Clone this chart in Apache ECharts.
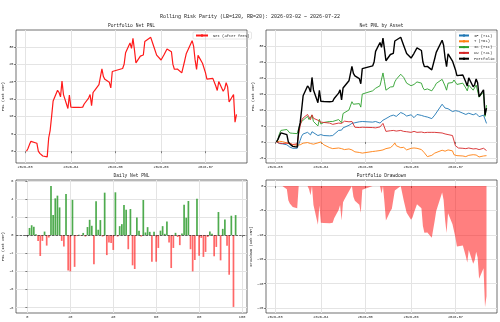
<!DOCTYPE html>
<html>
<head>
<meta charset="utf-8">
<script src="https://cdn.jsdelivr.net/npm/echarts@6/dist/echarts.min.js"></script>
<style>html,body{margin:0;padding:0;background:#fff}#chart{width:500px;height:322px}</style>
</head>
<body>
<div id="chart"></div>
<script>
// trading days, by month
var tradeDays = {
  "2026-03": [2,3,4,5,6,9,10,11,12,13,16,17,18,19,20,23,24,25,26,27,30,31],
  "2026-04": [1,2,3,7,8,9,10,13,14,15,16,17,20,21,22,23,24,27,28,29,30],
  "2026-05": [6,7,8,11,12,13,14,15,18,19,20,21,22,25,26,27,28,29],
  "2026-06": [1,2,3,4,5,8,9,10,11,12,15,16,17,18,22,23,24,25,26,29,30],
  "2026-07": [1,2,3,6,7,8,9,10,13,14,15,16,17,20,21,22]
};
var monthTicks = ["2026-03", "2026-04", "2026-05", "2026-06", "2026-07"];

// daily net pnl (10k CNY)
var dailyPnl = [0, 0.8, 1.1, 0.93, 0.1, -0.63, -2.3, -0.63, 0.4, -1.15,
  -0.26, 5.44, 2.22, 4.07, 4.37, 3.07, -0.63, -1.26, 4.55, -3.9,
  -4.0, 3.9, -3.5, -0.1, 0.05, -0.05, 0.25, -0.15, 0.9, 1.7,
  1.04, -3.2, 3.74, 0.6, 1.67, -0.15, 4.7, -2.2, -0.8, -0.85,
  -1.63, 4.74, -0.15, 1.0, 1.22, 3.33, 2.8, -1.55, 2.89, -3.33,
  -3.74, 1.96, 0.48, -0.15, 3.89, 0.3, 0.89, 0.37, -2.93, 0.37,
  -2.93, -1.41, 0.5, 1.0, 0.15, 1.52, -0.8, -3.63, -1.41, 0.26,
  -0.2, -1.1, 0.2, 3.37, 1.93, 3.78, -1.55, -4.0, -2.74, 4.04,
  -2.26, -0.3, -2.4, -1.85, -0.2, 0.4, 0.15, -2.33, -1.3, 2.56,
  -2.78, 0.7, 1.74, -1.18, -4.37, 2.15, -7.93, 2.22];

// cumulative net pnl
var netPnl = [0, 0.8, 1.9, 2.83, 2.93, 2.3, 0, -0.63, -0.23, -1.38,
  -1.64, 3.8, 6.02, 10.09, 14.46, 17.53, 16.9, 15.64, 20.19, 16.29,
  12.29, 16.19, 12.69, 12.59, 12.64, 12.59, 12.84, 12.69, 13.59, 15.29,
  16.33, 13.13, 16.87, 17.47, 19.14, 18.99, 23.69, 21.49, 20.69, 19.84,
  18.21, 22.95, 22.8, 23.8, 25.02, 28.35, 31.15, 29.6, 32.49, 29.16,
  25.42, 27.38, 27.86, 27.71, 31.6, 31.9, 32.79, 33.16, 30.23, 30.6,
  27.67, 26.26, 26.76, 27.76, 27.91, 29.43, 28.63, 25.0, 23.59, 23.85,
  23.65, 22.55, 22.75, 26.12, 28.05, 31.83, 30.28, 26.28, 23.54, 27.58,
  25.32, 25.02, 22.62, 20.77, 20.57, 20.97, 21.12, 18.79, 17.49, 20.05,
  17.27, 17.97, 19.71, 18.53, 14.16, 16.31, 8.38, 10.6];

var drawdown = [0, 0, 0, 0, 0, -0.63, -2.93, -3.56, -3.16, -4.31,
  -4.57, 0, 0, 0, 0, 0, -0.63, -1.89, 0, -3.9,
  -7.9, -4.0, -7.5, -7.6, -7.55, -7.6, -7.35, -7.5, -6.6, -4.9,
  -3.86, -7.06, -3.32, -2.72, -1.05, -1.2, 0, -2.2, -3.0, -3.85,
  -5.48, -0.74, -0.89, 0, 0, 0, 0, -1.55, 0, -3.33,
  -7.07, -5.11, -4.63, -4.78, -0.89, -0.59, 0, 0, -2.93, -2.56,
  -5.49, -6.9, -6.4, -5.4, -5.25, -3.73, -4.53, -8.16, -9.57, -9.31,
  -9.51, -10.61, -10.41, -7.04, -5.11, -1.33, -2.88, -6.88, -9.62, -5.58,
  -7.84, -8.14, -10.54, -12.39, -12.59, -12.19, -12.04, -14.37, -15.67, -13.11,
  -15.89, -15.19, -13.45, -14.63, -19.0, -16.85, -24.78, -22.56];

// per asset cumulative net pnl
var pnlIF = [0, -0.2, -0.5, -0.3, -0.6, -0.9, -1.3, -1.6, -1.4, -2.0,
  -2.0, -0.8, 0.5, 1.8, 2.5, 3.0, 2.5, 2.2, 3.2, 2.6,
  2.0, 2.6, 2.3, 2.1, 2.0, 1.9, 2.1, 2.0, 2.6, 3.6,
  4.0, 3.7, 4.4, 4.6, 5.2, 5.0, 5.8, 5.7, 6.0, 6.3,
  6.1, 6.4, 6.3, 6.2, 6.0, 6.4, 5.9, 6.1, 6.8, 6.4,
  7.3, 8.1, 7.8, 8.4, 8.6, 8.0, 9.2, 9.5, 8.8, 8.6,
  8.1, 8.5, 7.9, 7.6, 8.2, 8.6, 8.3, 7.9, 8.0, 7.6,
  7.8, 7.3, 7.1, 8.4, 9.0, 11.8, 11.3, 10.6, 10.0, 10.4,
  9.5, 9.3, 9.8, 9.4, 9.6, 9.0, 9.1, 8.6, 8.8, 9.0,
  8.5, 8.7, 8.9, 8.5, 7.9, 8.4, 8.1, 5.8];
var pnlT = [0, 0.3, 0.2, -0.2, 0.1, -0.3, -0.6, -0.4, -0.8, -0.9,
  -1.0, -0.6, -0.9, -0.5, -0.4, -0.2, -0.6, -0.5, -0.9, -0.7,
  -0.3, -0.1, 0.0, -0.5, -0.9, -1.8, -1.6, -2.1, -1.8, -1.9,
  -2.3, -2.1, -2.6, -2.4, -2.2, -2.0, -2.5, -2.8, -3.1, -3.3,
  -3.2, -3.5, -3.3, -3.0, -3.2, -2.9, -2.7, -2.9, -2.5, -2.6,
  -2.1, -1.8, -1.4, -1.0, -0.3, -1.2, -1.8, -2.0, -1.7, -2.2,
  -2.5, -2.0, -2.3, -1.9, -2.1, -2.0, -2.4, -3.0, -3.4, -4.0,
  -4.6, -4.2, -3.9, -3.5, -3.2, -2.6, -2.4, -2.9, -2.7, -2.5,
  -2.8, -4.0, -4.4, -4.3, -4.5, -4.4, -4.3, -4.6, -4.4, -4.2,
  -4.0, -4.3, -4.1, -4.5, -4.7, -4.4, -4.2, -4.3];
var pnlIC = [0, 0.9, 2.6, 3.6, 3.9, 3.9, 3.3, 2.8, 3.2, 2.7,
  2.6, 4.2, 5.6, 6.4, 7.0, 8.0, 7.0, 6.5, 8.4, 6.4,
  5.0, 7.1, 5.6, 5.9, 6.1, 6.4, 6.5, 6.4, 6.6, 7.0,
  7.6, 6.0, 8.9, 9.4, 10.0, 9.6, 12.6, 11.8, 12.0, 12.0,
  10.9, 15.0, 15.2, 16.0, 16.3, 16.8, 17.6, 17.2, 21.6, 19.0,
  16.2, 17.2, 17.6, 17.3, 18.8, 19.6, 21.2, 21.6, 20.2, 20.4,
  18.4, 17.6, 18.2, 18.0, 17.8, 18.8, 18.4, 17.0, 16.3, 16.7,
  16.6, 16.0, 16.2, 17.4, 18.3, 19.6, 19.9, 17.5, 16.2, 18.4,
  18.6, 19.4, 19.0, 18.0, 17.8, 18.4, 18.1, 16.9, 16.0, 17.8,
  16.2, 16.6, 17.8, 17.2, 14.0, 15.6, 8.0, 11.5];
var pnlCU = [0, -0.2, -0.4, -0.3, -0.5, -0.4, -0.6, -0.5, -0.7, -0.8,
  -0.6, 2.5, 5.0, 6.8, 7.5, 8.6, 7.8, 7.0, 8.5, 7.4,
  6.8, 6.5, 6.2, 6.0, 6.1, 5.9, 5.7, 5.5, 5.8, 5.9,
  6.1, 5.8, 6.4, 6.5, 6.3, 6.6, 6.4, 6.2, 4.6, 4.5,
  4.3, 4.6, 4.4, 4.5, 4.6, 4.4, 4.7, 4.5, 5.8, 5.2,
  3.3, 3.5, 3.4, 3.6, 3.5, 3.4, 3.6, 3.5, 3.3, 3.4,
  3.2, 3.0, 3.1, 3.3, 3.2, 3.0, 3.1, 3.0, 2.9, 3.1,
  3.0, 3.0, 2.8, 3.0, 3.1, 2.8, 2.9, 2.5, 2.6, 2.3,
  2.0, 1.4, -1.2, -1.8, -1.9, -2.0, -1.8, -2.1, -2.0, -1.9,
  -2.2, -2.0, -2.1, -2.3, -2.4, -2.0, -2.2, -2.7];

var assetNames = ["IF (×1L)", "T (×6L)", "IC (×1L)", "CU (×4L)", "Portfolio"];

var FONT = "Liberation Mono";
var TXT = "#222";

// build timestamps
var dates = [];
Object.keys(tradeDays).forEach(function (m) {
  var p = m.split("-");
  tradeDays[m].forEach(function (d) {
    dates.push(new Date(+p[0], +p[1] - 1, d).getTime());
  });
});
var tickTimes = monthTicks.map(function (m) {
  var p = m.split("-");
  return new Date(+p[0], +p[1] - 1, 1).getTime();
});
var span = dates[dates.length - 1] - dates[0];
var tMin = dates[0] - span * 0.05, tMax = dates[dates.length - 1] + span * 0.05;

function pairs(arr) {
  return arr.map(function (v, i) { return [dates[i], v]; });
}
function pad(n) { return n < 10 ? "0" + n : "" + n; }

var tickStyle = { color: "#333", width: 0.6 };
var gridLine = { show: true, lineStyle: { color: "#e4e4e4", width: 1 } };

function xTime(gi) {
  return {
    type: "value", gridIndex: gi, min: tMin, max: tMax,
    axisLine: { show: false },
    axisTick: { show: true, customValues: tickTimes, length: 2, lineStyle: tickStyle },
    axisLabel: {
      customValues: tickTimes, fontSize: 3.6, fontFamily: FONT, color: TXT, margin: 2.5,
      formatter: function (v) { var d = new Date(v); return d.getFullYear() + "-" + pad(d.getMonth() + 1); }
    },
    splitLine: gridLine
  };
}
function yVal(gi, min, max, ticks, name, gap) {
  return {
    type: "value", gridIndex: gi, min: min, max: max,
    name: name, nameLocation: "middle", nameGap: gap,
    nameTextStyle: { fontSize: 3.7, fontFamily: FONT, color: TXT },
    axisLine: { show: false },
    axisTick: { show: true, customValues: ticks, length: 2, lineStyle: tickStyle },
    axisLabel: { customValues: ticks, fontSize: 3.6, fontFamily: FONT, color: TXT, margin: 2.5 },
    splitLine: gridLine
  };
}
function gridBox(l, t) {
  return { left: l, top: t, width: 231, height: 133, show: true, borderColor: "#333", borderWidth: 0.7 };
}
function label(text, x, y, size) {
  return {
    type: "text", x: x, y: y,
    style: { text: text, textAlign: "center", textVerticalAlign: "middle", fontSize: size, fontFamily: FONT, fill: TXT }
  };
}

var chart = echarts.init(document.getElementById("chart"));
var option = {
  animation: false,
  backgroundColor: "#fff",
  graphic: [
    label("Rolling Risk Parity (LB=120, RB=20): 2026-03-02 ~ 2026-07-22", 250, 17, 5),
    label("Portfolio Net PNL", 131.5, 25.5, 4.6),
    label("Net PNL by Asset", 381.5, 25.5, 4.6),
    label("Daily Net PNL", 131.5, 175.5, 4.6),
    label("Portfolio Drawdown", 381.5, 175.5, 4.6)
  ],
  grid: [gridBox(16, 30), gridBox(266, 30), gridBox(16, 180), gridBox(266, 180)],
  legend: [
    {
      data: ["Net (after fees)"], left: 193, top: 32, itemWidth: 12, itemHeight: 3, padding: [1.5, 2],
      borderColor: "#ccc", borderWidth: 0.5, borderRadius: 1,
      textStyle: { fontSize: 3.8, fontFamily: FONT, color: TXT }
    },
    {
      data: assetNames, left: 456, top: 32, orient: "vertical", itemGap: 1.8, itemWidth: 10, itemHeight: 3,
      padding: [1.5, 2], borderColor: "#ccc", borderWidth: 0.5, borderRadius: 1,
      textStyle: { fontSize: 3.8, fontFamily: FONT, color: TXT }
    }
  ],
  xAxis: [
    xTime(0),
    xTime(1),
    {
      type: "value", gridIndex: 2, min: -5.3, max: 102.3,
      axisLine: { show: false },
      axisTick: { show: true, customValues: [0, 20, 40, 60, 80, 100], length: 2, lineStyle: tickStyle },
      axisLabel: { customValues: [0, 20, 40, 60, 80, 100], fontSize: 3.6, fontFamily: FONT, color: TXT, margin: 2.5 },
      splitLine: gridLine
    },
    xTime(3)
  ],
  yAxis: [
    yVal(0, -3.4, 34.9, [0, 5, 10, 15, 20, 25, 30], "PNL (10k CNY)", 11),
    yVal(1, -6.6, 35.05, [-5, 0, 5, 10, 15, 20, 25, 30], "PNL (10k CNY)", 11),
    yVal(2, -8.6, 6.1, [-8, -6, -4, -2, 0, 2, 4, 6], "PNL (10k CNY)", 11),
    yVal(3, -26.0, 1.24, [-25, -20, -15, -10, -5, 0], "Drawdown (10k CNY)", 13)
  ],
  series: [
    {
      name: "Net (after fees)", type: "line", xAxisIndex: 0, yAxisIndex: 0, data: pairs(netPnl),
      symbol: "none", color: "#ff1a1a", lineStyle: { width: 1.2 }
    },
    { name: assetNames[0], type: "line", xAxisIndex: 1, yAxisIndex: 1, data: pairs(pnlIF), symbol: "none", color: "#1f77b4", lineStyle: { width: 0.9 }, z: 2 },
    { name: assetNames[1], type: "line", xAxisIndex: 1, yAxisIndex: 1, data: pairs(pnlT), symbol: "none", color: "#ff7f0e", lineStyle: { width: 0.9 }, z: 2 },
    { name: assetNames[2], type: "line", xAxisIndex: 1, yAxisIndex: 1, data: pairs(pnlIC), symbol: "none", color: "#2ca02c", lineStyle: { width: 0.9 }, z: 2 },
    { name: assetNames[3], type: "line", xAxisIndex: 1, yAxisIndex: 1, data: pairs(pnlCU), symbol: "none", color: "#d62728", lineStyle: { width: 0.9 }, z: 2 },
    { name: assetNames[4], type: "line", xAxisIndex: 1, yAxisIndex: 1, data: pairs(netPnl), symbol: "none", color: "#000", lineStyle: { width: 1.4 }, z: 3 },
    {
      type: "bar", xAxisIndex: 2, yAxisIndex: 2, barWidth: 1.7,
      data: dailyPnl.map(function (v, i) { return [i, v]; }),
      itemStyle: {
        color: function (p) { return p.value[1] >= 0 ? "rgba(34,150,34,0.8)" : "rgba(255,40,40,0.7)"; }
      },
      markLine: {
        silent: true, symbol: "none", label: { show: false },
        lineStyle: { type: "dashed", color: "#111", width: 0.6 },
        data: [{ yAxis: 0 }]
      }
    },
    {
      type: "line", xAxisIndex: 3, yAxisIndex: 3, data: pairs(drawdown), symbol: "none",
      lineStyle: { width: 0 }, color: "rgba(255,0,0,0.5)",
      areaStyle: { color: "rgba(255,0,0,0.5)", opacity: 1 }
    }
  ]
};
chart.setOption(option);
</script>
</body>
</html>
